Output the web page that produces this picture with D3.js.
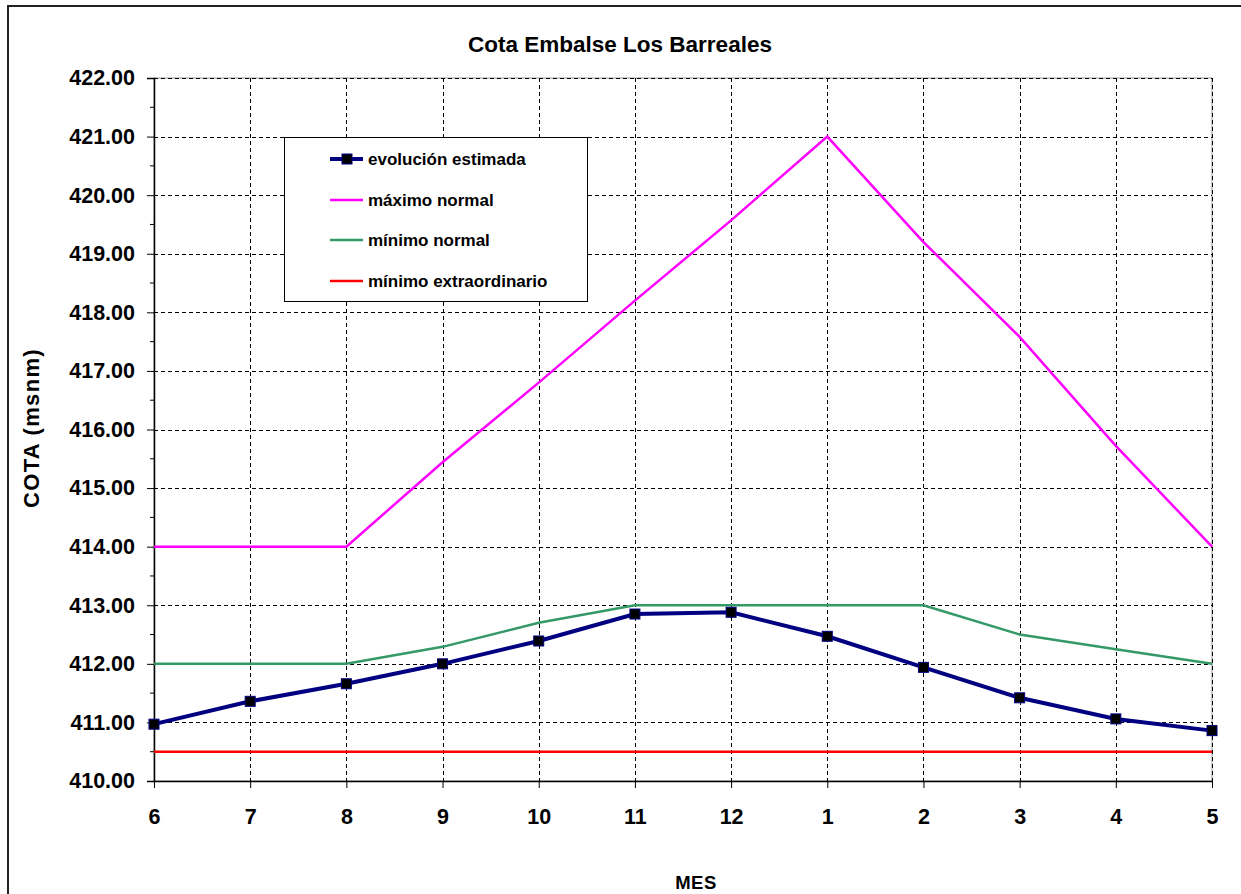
<!DOCTYPE html>
<html><head><meta charset="utf-8">
<script src="https://cdn.jsdelivr.net/npm/d3@7"></script>
<style>body{margin:0;background:#fff}svg{display:block}text{font-family:"Liberation Sans",Arial,sans-serif;font-weight:bold;fill:#000}</style>
</head><body><svg id="c" width="1241" height="894"></svg>
<script>
const months = ["6","7","8","9","10","11","12","1","2","3","4","5"];
const evolucion = [410.97,411.36,411.66,412.0,412.39,412.85,412.88,412.47,411.94,411.42,411.06,410.86];
const maximoNormal = [414,414,414,415.44,416.8,418.2,419.57,421,419.2,417.58,415.72,414];
const minimoNormal = [412,412,412,412.29,412.7,413,413,413,413,412.5,412.25,412];
const minimoExtra = [410.5,410.5,410.5,410.5,410.5,410.5,410.5,410.5,410.5,410.5,410.5,410.5];
const yTicks = d3.range(410,422.01,1);
const yMinor = d3.range(410.5,422,1);

const svg = d3.select("#c");
const L=154,R=1212,T=78,B=781;
const x = d3.scalePoint().domain(months).range([L,R]);
const y = d3.scaleLinear().domain([410,422]).range([B,T]);
const FF = "'Liberation Sans',Arial,sans-serif";

// outer frame
svg.append("path").attr("d","M8,894V6H1241").attr("fill","none").attr("stroke","#222").attr("stroke-width",2);

// plot border
svg.append("rect").attr("x",L).attr("y",T).attr("width",R-L).attr("height",B-T).attr("fill","none").attr("stroke","#999").attr("stroke-width",1);

// grid
const g = svg.append("g");
g.selectAll(".hg").data(yTicks.filter(d=>d>410)).join("line")
 .attr("x1",L).attr("x2",R).attr("y1",d=>Math.round(y(d))+0.5).attr("y2",d=>Math.round(y(d))+0.5)
 .attr("stroke","#000").attr("stroke-width",1).attr("stroke-dasharray","4,3");
g.selectAll(".vg").data(months.slice(1)).join("line")
 .attr("y1",T).attr("y2",B).attr("x1",d=>Math.round(x(d))+0.5).attr("x2",d=>Math.round(x(d))+0.5)
 .attr("stroke","#000").attr("stroke-width",1).attr("stroke-dasharray","4,3");

// axes
const ya = svg.append("g").attr("transform",`translate(${L},0)`)
 .call(d3.axisLeft(y).tickValues(yTicks).tickFormat(d3.format(".2f")).tickSize(7).tickPadding(12));
ya.selectAll("text").style("font-size","21.5px").style("font-weight","bold").style("font-family",FF);
ya.select(".domain").attr("stroke","#000").attr("stroke-width",1.5);
ya.selectAll(".tick line").attr("stroke","#000");
svg.append("g").selectAll("line").data(yMinor).join("line")
 .attr("x1",L-4).attr("x2",L).attr("y1",d=>y(d)).attr("y2",d=>y(d)).attr("stroke","#000");

const xa = svg.append("g").attr("transform",`translate(0,${B})`)
 .call(d3.axisBottom(x).tickSize(7).tickPadding(21).tickSizeOuter(0));
xa.selectAll("text").style("font-size","21.5px").style("font-weight","bold").style("font-family",FF);
xa.select(".domain").attr("stroke","#000").attr("stroke-width",1.5);
xa.selectAll(".tick line").attr("stroke","#000");

// lines
const line = d3.line().x((d,i)=>x(months[i])).y(d=>y(d));
svg.append("path").datum(minimoExtra).attr("d",line).attr("fill","none").attr("stroke","#ff0000").attr("stroke-width",2.5);
svg.append("path").datum(minimoNormal).attr("d",line).attr("fill","none").attr("stroke","#339966").attr("stroke-width",2.5);
svg.append("path").datum(maximoNormal).attr("d",line).attr("fill","none").attr("stroke","#ff00ff").attr("stroke-width",2.5);
svg.append("path").datum(evolucion).attr("d",line).attr("fill","none").attr("stroke","#000080").attr("stroke-width",4);
svg.append("g").selectAll("rect").data(evolucion).join("rect")
 .attr("x",(d,i)=>x(months[i])-5).attr("y",d=>y(d)-5).attr("width",10).attr("height",10)
 .attr("fill","#000").attr("stroke","#000080").attr("stroke-width",1);

// titles
svg.append("text").attr("x",620).attr("y",52).attr("text-anchor","middle").style("font-size","22.5px").text("Cota Embalse Los Barreales");
svg.append("text").attr("transform","translate(39,428) rotate(-90)").attr("text-anchor","middle").style("font-size","22px").style("letter-spacing","1.3px").text("COTA (msnm)");
svg.append("text").attr("x",696).attr("y",889).attr("text-anchor","middle").style("font-size","18.5px").style("letter-spacing","0.5px").text("MES");

// legend
const leg = svg.append("g");
leg.append("rect").attr("x",284.5).attr("y",137.5).attr("width",303).attr("height",164).attr("fill","#fff").attr("stroke","#000").attr("stroke-width",1);
const legItems = [
 {name:"evolución estimada", color:"#000080", w:4, marker:true},
 {name:"máximo normal", color:"#ff00ff", w:2.5},
 {name:"mínimo normal", color:"#339966", w:2.5},
 {name:"mínimo extraordinario", color:"#ff0000", w:2.5}];
const ly = [159,200,240,281];
legItems.forEach((it,i)=>{
  leg.append("line").attr("x1",330).attr("x2",363).attr("y1",ly[i]).attr("y2",ly[i]).attr("stroke",it.color).attr("stroke-width",it.w);
  if(it.marker) leg.append("rect").attr("x",342).attr("y",ly[i]-5).attr("width",10).attr("height",10).attr("fill","#000").attr("stroke","#000080");
  leg.append("text").attr("x",368).attr("y",ly[i]+6).style("font-size","17px").text(it.name);
});
</script></body></html>
